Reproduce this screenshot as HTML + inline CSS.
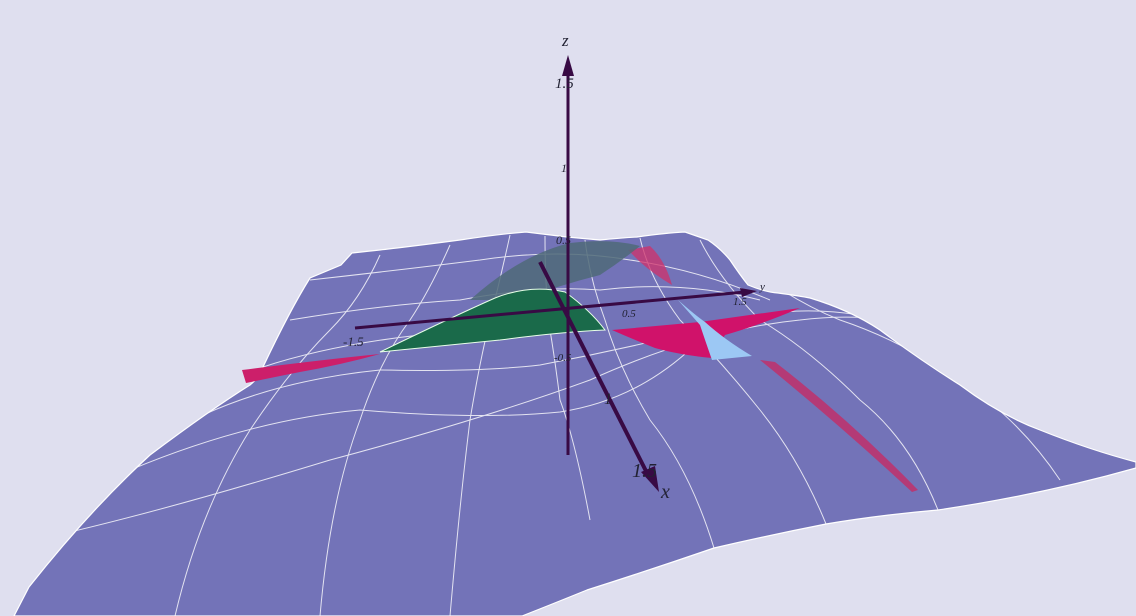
<!DOCTYPE html>
<html><head><meta charset="utf-8"><style>
html,body{margin:0;padding:0;background:#dfdfef;}
svg{display:block;font-family:"Liberation Serif",serif;font-style:italic;}
</style></head><body>
<svg width="1136" height="616" viewBox="0 0 1136 616">
<defs>
<clipPath id="surfclip"><path d="M14,616 L29,587 Q90,510 150,455 Q210,410 250,385 Q262,375 263,367 Q290,310 310,278 L341,265 L352,253 Q380,250 397,248 Q430,244 460,240 Q500,234 526,232 L567,237 L600,240 Q620,238 637,237 Q665,233 685,232 L708,240 Q720,248 730,260 Q740,275 748,285 Q765,292 778,293 Q800,296 810,298 Q850,310 880,330 Q920,360 960,385 Q1000,415 1040,430 Q1090,450 1136,462 L1136,468 Q1040,495 938,510 Q880,515 826,524 Q770,535 714,548 Q650,570 587,590 Q550,605 522,616 Z"/></clipPath>
</defs>
<rect width="1136" height="616" fill="#dfdfef"/>
<path fill="#7373b8" stroke="#ffffff" stroke-width="1.2"
 d="M14,616 L29,587 Q90,510 150,455 Q210,410 250,385 Q262,375 263,367 Q290,310 310,278 L341,265 L352,253 Q380,250 397,248 Q430,244 460,240 Q500,234 526,232 L567,237 L600,240 Q620,238 637,237 Q665,233 685,232 L708,240 Q720,248 730,260 Q740,275 748,285 Q765,292 778,293 Q800,296 810,298 Q850,310 880,330 Q920,360 960,385 Q1000,415 1040,430 Q1090,450 1136,462 L1136,468 Q1040,495 938,510 Q880,515 826,524 Q770,535 714,548 Q650,570 587,590 Q550,605 522,616 Z"/>
<g clip-path="url(#surfclip)" fill="none" stroke="#ffffff" stroke-width="1" opacity="0.8">
<path d="M35,540 Q150,515 330,460 Q480,420 590,380 Q700,330 800,320 Q960,300 1136,420"/>
<path d="M130,470 Q250,420 360,410 Q480,420 560,412 Q640,400 700,340 Q760,300 860,315 Q1000,330 1110,428"/>
<path d="M203,415 Q280,380 380,370 Q480,372 540,365 Q620,350 700,330"/>
<path d="M263,367 Q330,345 420,335 Q500,328 560,330"/>
<path d="M290,320 Q380,305 460,300 Q540,285 600,290 Q680,280 760,300"/>
<path d="M310,280 Q400,270 480,260 Q560,248 630,260 Q700,270 770,300"/>
<path d="M175,616 Q200,510 250,430 Q290,370 330,330 Q360,300 380,255"/>
<path d="M320,616 Q330,500 360,420 Q380,360 410,320 Q430,290 450,245"/>
<path d="M450,616 Q460,500 470,420 Q480,360 490,320 Q500,280 510,235"/>
<path d="M590,520 Q575,440 560,400 Q555,360 550,330 Q545,290 545,236"/>
<path d="M714,548 Q690,470 650,420 Q620,370 605,320 Q590,280 585,240"/>
<path d="M826,524 Q800,460 760,410 Q720,360 680,320 Q650,280 640,238"/>
<path d="M938,510 Q910,440 860,400 Q810,350 760,320 Q720,280 700,240"/>
<path d="M1060,480 Q1020,420 960,380 Q900,340 840,320 Q790,300 740,260"/>
</g>
<path d="M628,250 L650,246 Q665,260 672,285 Q655,275 640,262 Z" fill="#d0306a" opacity="0.75"/>
<path d="M470,300 Q520,255 570,243 Q610,238 640,246 Q620,262 600,275 Q560,285 520,300 Z" fill="#4f6a78" opacity="0.85"/>
<path d="M380,352 Q450,318 495,298 Q530,284 565,292 Q590,310 605,330 Q560,332 500,340 Q440,346 380,352 Z" fill="#1a6a4a" stroke="#e8ffe8" stroke-width="1"/>
<path d="M242,370 Q320,360 380,354 Q340,365 300,372 Q270,378 246,383 Z" fill="#cc1f6a"/>
<path d="M612,330 L700,322 L800,308 Q760,325 725,335 L712,358 Q680,355 655,348 Q630,338 612,330 Z" fill="#d0126a"/>
<path d="M678,300 Q695,315 705,322 Q725,340 752,356 L712,360 Q705,340 700,325 Z" fill="#9cc8f4"/>
<path d="M760,360 L775,362 Q850,420 918,490 L912,492 Q840,425 760,360 Z" fill="#c0306a" opacity="0.85"/>
<g stroke="#380a44" fill="#380a44">
<line x1="568" y1="455" x2="568" y2="70" stroke-width="3"/>
<polygon points="562,76 574,76 568,55" stroke="none"/>
<line x1="355" y1="328" x2="745" y2="292" stroke-width="3"/>
<polygon points="740,288 742,297 757,291" stroke="none"/>
<line x1="540" y1="262" x2="648" y2="475" stroke-width="4"/>
<polygon points="641,472 655,466 659,492" stroke="none"/>
</g>
<g fill="#222233">
<text x="562" y="46" font-size="17">z</text>
<text x="555" y="88" font-size="15">1.5</text>
<text x="561" y="172" font-size="12">1</text>
<text x="556" y="244" font-size="12">0.5</text>
<text x="554" y="361" font-size="11">-0.5</text>
<text x="760" y="290" font-size="11">y</text>
<text x="343" y="346" font-size="13">-1.5</text>
<text x="622" y="317" font-size="11">0.5</text>
<text x="733" y="305" font-size="11">1.5</text>
<text x="604" y="404" font-size="16">1</text>
<text x="632" y="477" font-size="20">1.5</text>
<text x="661" y="498" font-size="20">x</text>
</g>
</svg>
</body></html>
